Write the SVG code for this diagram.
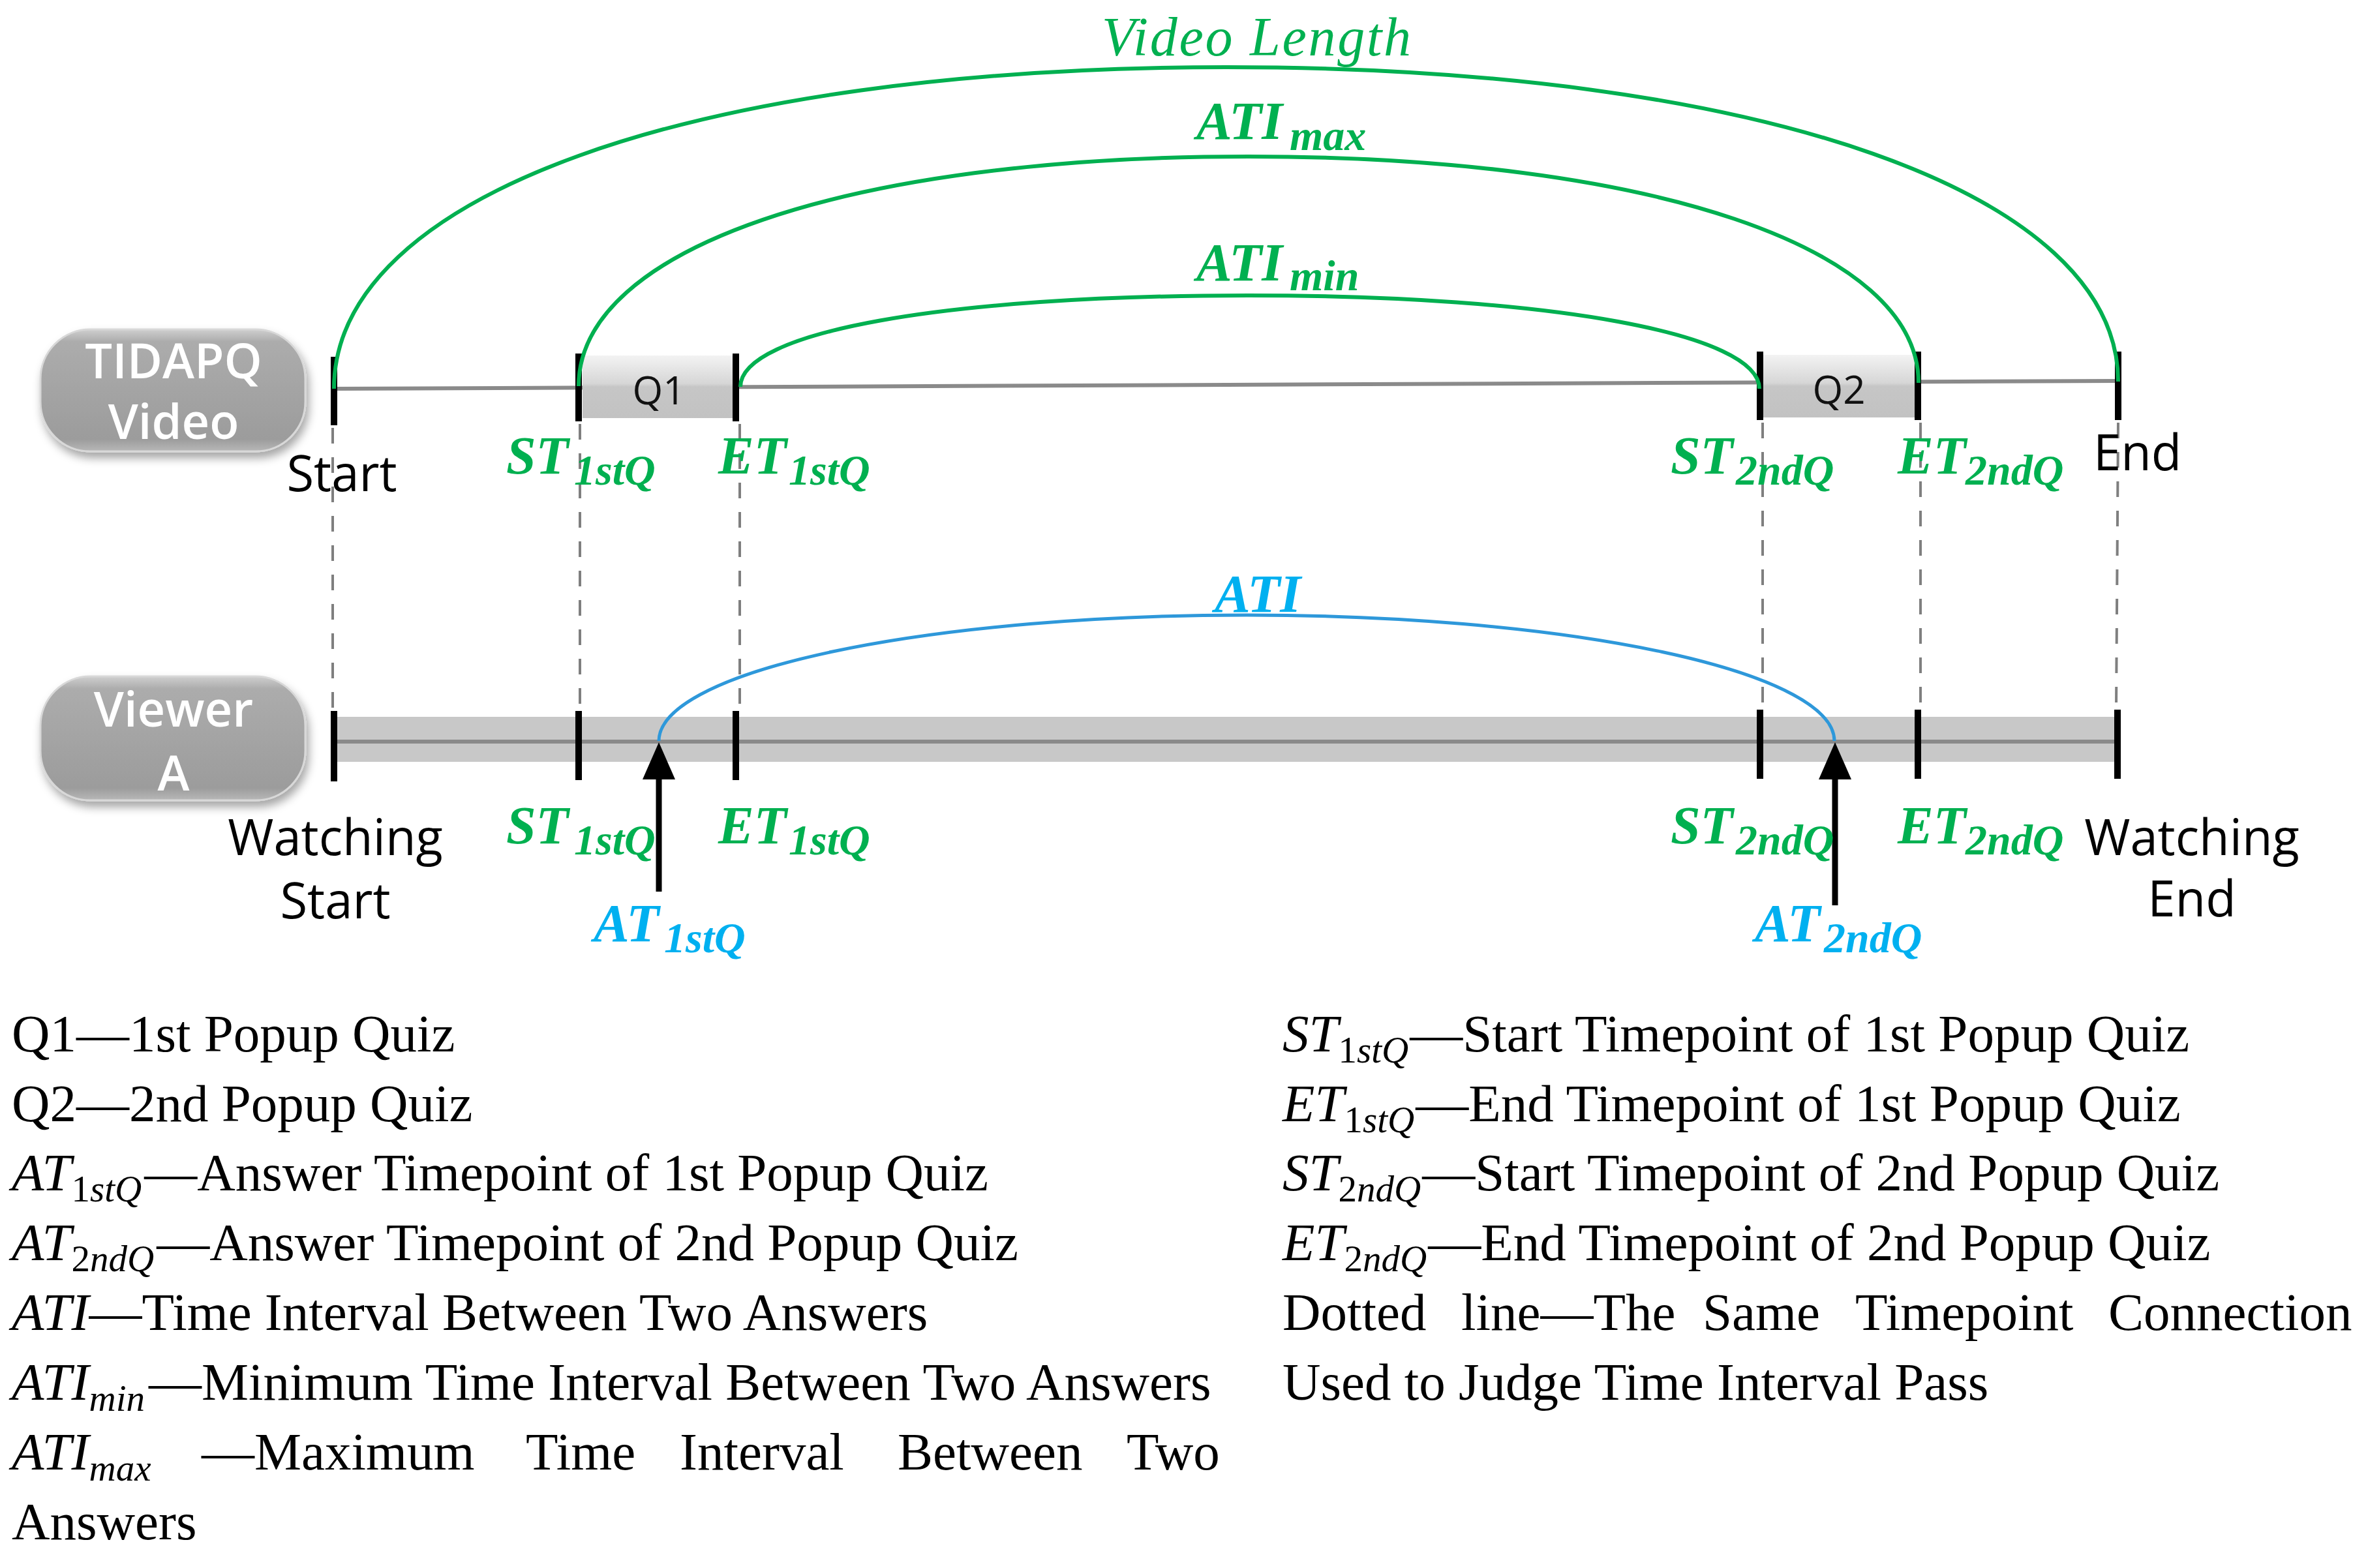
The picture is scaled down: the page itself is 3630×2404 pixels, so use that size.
<svg xmlns="http://www.w3.org/2000/svg" width="3630" height="2404" viewBox="0 0 3630 2404">
<defs>
<linearGradient id="btnGrad" x1="0" y1="0" x2="0" y2="1">
<stop offset="0" stop-color="#cfcfcf"/>
<stop offset="0.1" stop-color="#acacac"/>
<stop offset="0.5" stop-color="#a4a4a4"/>
<stop offset="0.9" stop-color="#9c9c9c"/>
<stop offset="1" stop-color="#b8b8b8"/>
</linearGradient>
<linearGradient id="qGrad" x1="0" y1="0" x2="0" y2="1">
<stop offset="0" stop-color="#f3f3f3"/>
<stop offset="0.45" stop-color="#d6d6d6"/>
<stop offset="0.5" stop-color="#c6c6c6"/>
<stop offset="1" stop-color="#c2c2c2"/>
</linearGradient>
<filter id="shadow" x="-20%" y="-20%" width="140%" height="150%">
<feDropShadow dx="4" dy="9" stdDeviation="7" flood-color="#000" flood-opacity="0.35"/>
</filter>
<style>
.btn{fill:url(#btnGrad);stroke:#d8d8d8;stroke-width:3}
.btntxt{font-family:"Open Sans","Noto Sans",sans-serif;font-weight:600;font-size:74px;fill:#fff;text-anchor:middle}
.sans{font-family:"Open Sans","Noto Sans",sans-serif;font-size:76px;fill:#000}
.qtxt{font-family:"Open Sans","Noto Sans",sans-serif;font-size:60px;fill:#111;text-anchor:middle}
.tick{stroke:#000;stroke-width:10}
.dash{stroke:#7f7f7f;stroke-width:4;stroke-dasharray:24 21;fill:none}
.garc{fill:none;stroke:#00b050;stroke-width:6}
.barc{fill:none;stroke:#2e98da;stroke-width:5}
.lbl{font-family:"Liberation Serif","Times New Roman",serif;font-weight:bold;font-style:italic;font-size:82px}
.vl{font-family:"Liberation Serif","Times New Roman",serif;font-weight:normal;font-style:italic;font-size:84px;fill:#00b050}
.sub{font-size:66px}
.g{fill:#00b050}
.b{fill:#00b0f0}
.leg{font-family:"Liberation Serif","Times New Roman",serif;font-size:81px;fill:#000}
.it{font-style:italic}
.ls{font-size:57px}
</style>
</defs>
<rect width="3630" height="2404" fill="#fff"/>

<g id="video-timeline">
<line x1="512" y1="596" x2="3247" y2="584" stroke="#8a8a8a" stroke-width="6"/>
</g>

<g id="node-q1">
<rect x="893" y="545" width="234" height="96" fill="url(#qGrad)"/>
<text class="qtxt" x="1010" y="620">Q1</text>
</g>
<g id="node-q2">
<rect x="2702" y="544" width="236" height="96" fill="url(#qGrad)"/>
<text class="qtxt" x="2819" y="619">Q2</text>
</g>

<g id="top-ticks">
<line class="tick" x1="512" y1="547" x2="512" y2="652"/>
<line class="tick" x1="887" y1="542" x2="887" y2="646"/>
<line class="tick" x1="1128" y1="542" x2="1128" y2="646"/>
<line class="tick" x1="2698" y1="539" x2="2698" y2="644"/>
<line class="tick" x1="2940" y1="539" x2="2940" y2="644"/>
<line class="tick" x1="3247" y1="539" x2="3247" y2="644"/>
</g>

<g id="viewer-timeline">
<rect x="510" y="1099" width="2737" height="69" fill="#c8c8c8"/>
<line x1="510" y1="1137" x2="3247" y2="1137" stroke="#8a8a8a" stroke-width="6"/>
<line class="tick" x1="512" y1="1090" x2="512" y2="1198"/>
<line class="tick" x1="887" y1="1090" x2="887" y2="1196"/>
<line class="tick" x1="1128" y1="1090" x2="1128" y2="1196"/>
<line class="tick" x1="2698" y1="1088" x2="2698" y2="1194"/>
<line class="tick" x1="2940" y1="1088" x2="2940" y2="1194"/>
<line class="tick" x1="3246" y1="1088" x2="3246" y2="1194"/>
</g>

<g id="node-tidapq">
<rect class="btn" x="62" y="505" width="406" height="187" rx="76" filter="url(#shadow)"/>
<text class="btntxt" x="266" y="580">TIDAPQ</text>
<text class="btntxt" x="266" y="673">Video</text>
</g>
<g id="node-viewer">
<rect class="btn" x="62" y="1037" width="406" height="190" rx="76" filter="url(#shadow)"/>
<text class="btntxt" x="266" y="1114">Viewer</text>
<text class="btntxt" x="266" y="1212">A</text>
</g>

<g id="connectors">
<line class="dash" x1="510" y1="656" x2="510" y2="1088"/>
<line class="dash" x1="889" y1="650" x2="889" y2="1088"/>
<line class="dash" x1="1134" y1="650" x2="1134" y2="1088"/>
<line class="dash" x1="2702" y1="648" x2="2702" y2="1086"/>
<line class="dash" x1="2944" y1="648" x2="2944" y2="1086"/>
<line class="dash" x1="3247" y1="648" x2="3244" y2="1086"/>
<path class="garc" d="M512,596 C512,300 1059,103 1880,103 C2700,103 3247,296 3247,585"/>
<path class="garc" d="M887,592 C887,381 1298,240 1914,240 C2530,240 2941,379 2941,587"/>
<path class="garc" d="M1135,593 C1135,509 1446,453 1913,453 C2380,453 2697,512 2697,596"/>
<path class="barc" d="M1010,1136 A901,193 0 0 1 2812,1136"/>
<line x1="1010" y1="1188" x2="1010" y2="1367" stroke="#000" stroke-width="9"/>
<polygon points="1010,1138 985,1195 1035,1195" fill="#000"/>
<line x1="2813" y1="1188" x2="2813" y2="1388" stroke="#000" stroke-width="9"/>
<polygon points="2813,1138 2788,1195 2838,1195" fill="#000"/>
</g>

<g id="labels">
<text class="vl" x="1689" y="85" textLength="474" lengthAdjust="spacing">Video Length</text>
<text class="lbl g" x="1834" y="213">ATI<tspan class="sub" x="1977" y="230">max</tspan></text>
<text class="lbl g" x="1834" y="430">ATI<tspan class="sub" x="1977" y="445">min</tspan></text>
<text class="lbl b" x="1862" y="938">ATI</text>

<text class="sans" x="524" y="753" text-anchor="middle">Start</text>
<text class="sans" x="3209" y="721">End</text>

<text class="lbl g" x="776" y="726">ST<tspan class="sub" x="880" y="743">1stQ</tspan></text>
<text class="lbl g" x="1101" y="726">ET<tspan class="sub" x="1209" y="743">1stQ</tspan></text>
<text class="lbl g" x="2561" y="726">ST<tspan class="sub" x="2661" y="743">2ndQ</tspan></text>
<text class="lbl g" x="2909" y="726">ET<tspan class="sub" x="3013" y="743">2ndQ</tspan></text>

<text class="lbl g" x="776" y="1293">ST<tspan class="sub" x="880" y="1310">1stQ</tspan></text>
<text class="lbl g" x="1101" y="1293">ET<tspan class="sub" x="1209" y="1310">1stQ</tspan></text>
<text class="lbl g" x="2561" y="1293">ST<tspan class="sub" x="2661" y="1310">2ndQ</tspan></text>
<text class="lbl g" x="2909" y="1293">ET<tspan class="sub" x="3013" y="1310">2ndQ</tspan></text>

<text class="lbl b" x="910" y="1443">AT<tspan class="sub" x="1018" y="1460">1stQ</tspan></text>
<text class="lbl b" x="2690" y="1443">AT<tspan class="sub" x="2796" y="1460">2ndQ</tspan></text>

<text class="sans" x="514" y="1311" text-anchor="middle">Watching</text>
<text class="sans" x="514" y="1408" text-anchor="middle">Start</text>
<text class="sans" x="3360" y="1311" text-anchor="middle">Watching</text>
<text class="sans" x="3360" y="1405" text-anchor="middle">End</text>
</g>

<g id="legend">
<text class="leg" x="18" y="1612">Q1—1st Popup Quiz</text>
<text class="leg" x="18" y="1719">Q2—2nd Popup Quiz</text>
<text class="leg" x="18" y="1825"><tspan class="it">AT</tspan><tspan class="ls" dy="17">1</tspan><tspan class="ls it">stQ</tspan><tspan dy="-17" dx="4">—Answer Timepoint of 1st Popup Quiz</tspan></text>
<text class="leg" x="18" y="1932"><tspan class="it">AT</tspan><tspan class="ls" dy="17">2</tspan><tspan class="ls it">ndQ</tspan><tspan dy="-17" dx="4">—Answer Timepoint of 2nd Popup Quiz</tspan></text>
<text class="leg" x="18" y="2039"><tspan class="it">ATI</tspan>—Time Interval Between Two Answers</text>
<text class="leg" x="18" y="2146"><tspan class="it">ATI</tspan><tspan class="ls it" dy="17">min</tspan><tspan dy="-17" dx="6">—Minimum Time Interval Between Two Answers</tspan></text>
<text class="leg" y="2253"><tspan x="18" class="it">ATI</tspan><tspan class="ls it" dy="17">max</tspan><tspan x="309" dy="-17">—Maximum</tspan><tspan x="806">Time</tspan><tspan x="1042">Interval</tspan><tspan x="1376">Between</tspan><tspan x="1727">Two</tspan></text>
<text class="leg" x="18" y="2360">Answers</text>

<text class="leg" x="1966" y="1612"><tspan class="it">ST</tspan><tspan class="ls" dy="17">1</tspan><tspan class="ls it">stQ</tspan><tspan dy="-17" dx="2">—Start Timepoint of 1st Popup Quiz</tspan></text>
<text class="leg" x="1966" y="1719"><tspan class="it">ET</tspan><tspan class="ls" dy="17">1</tspan><tspan class="ls it">stQ</tspan><tspan dy="-17" dx="2">—End Timepoint of 1st Popup Quiz</tspan></text>
<text class="leg" x="1966" y="1825"><tspan class="it">ST</tspan><tspan class="ls" dy="17">2</tspan><tspan class="ls it">ndQ</tspan><tspan dy="-17" dx="2">—Start Timepoint of 2nd Popup Quiz</tspan></text>
<text class="leg" x="1966" y="1932"><tspan class="it">ET</tspan><tspan class="ls" dy="17">2</tspan><tspan class="ls it">ndQ</tspan><tspan dy="-17" dx="2">—End Timepoint of 2nd Popup Quiz</tspan></text>
<text class="leg" y="2039"><tspan x="1966">Dotted</tspan><tspan x="2240">line—The</tspan><tspan x="2610">Same</tspan><tspan x="2844">Timepoint</tspan><tspan x="3232">Connection</tspan></text>
<text class="leg" x="1966" y="2146">Used to Judge Time Interval Pass</text>
</g>
</svg>
